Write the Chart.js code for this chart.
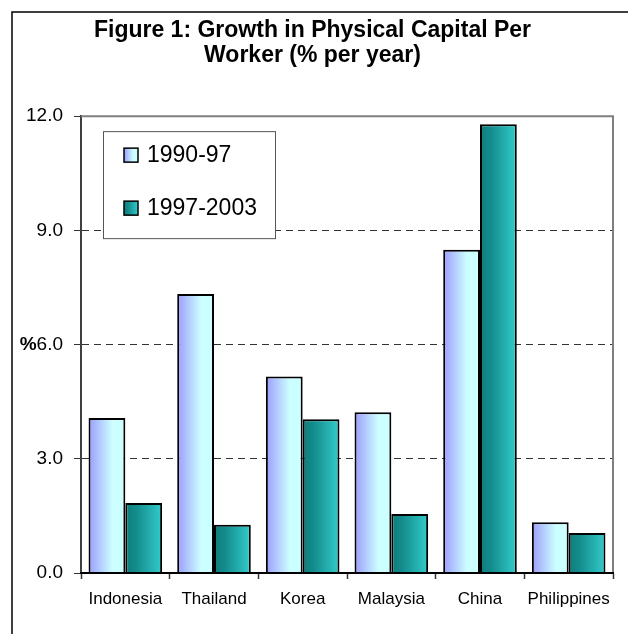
<!DOCTYPE html>
<html>
<head>
<meta charset="utf-8">
<script src="https://cdn.jsdelivr.net/npm/chart.js@4.4.1/dist/chart.umd.min.js"></script>
<style>
  html, body { margin: 0; padding: 0; background: #fff; overflow: hidden; }
</style>
</head>
<body>
<canvas id="chart" width="628" height="634"></canvas>
<script>
// Data
const countries = ['Indonesia', 'Thailand', 'Korea', 'Malaysia', 'China', 'Philippines'];
const growth1990 = [4.07, 7.33, 5.16, 4.22, 8.49, 1.33];
const growth1997 = [1.84, 1.27, 4.04, 1.55, 11.79, 1.05];
const seriesNames = ['1990-97', '1997-2003'];
const yMin = 0, yMax = 12, yStep = 3;

const FONT = "'Liberation Sans', Arial, sans-serif";
const CAT_PCT = 0.83;

// gradient stops, left to right across a bar
const stops1990 = [[0, '#9c9cff'], [0.65, '#ccffff'], [1, '#ccffff']];
const stops1997 = [[0, '#0d7d7d'], [0.3, '#148c8c'], [1, '#33cccc']];

function makeGradient(ctx, left, width, stops) {
    const g = ctx.createLinearGradient(left, 0, left + width, 0);
    stops.forEach(function (s) { g.addColorStop(s[0], s[1]); });
    return g;
}

// horizontal gradient per bar, position taken from the category scale
function barFill(stops) {
    return function (c) {
        const chart = c.chart;
        const xs = chart.scales.x;
        if (!xs || c.type !== 'data') return stops[0][1];
        const center = xs.getPixelForValue(c.dataIndex);
        const barW = (xs.width / countries.length) * CAT_PCT / 2;
        if (!isFinite(center) || !isFinite(barW) || barW <= 0) return stops[0][1];
        const left = c.datasetIndex === 0 ? center - barW : center;
        return makeGradient(chart.ctx, left, barW, stops);
    };
}

// frame, plot border, legend box and the "%" unit label
const decorations = {
    id: 'decorations',
    beforeDraw(chart) {
        const ctx = chart.ctx;
        ctx.save();
        ctx.fillStyle = '#fff';
        ctx.fillRect(0, 0, chart.width, chart.height);
        ctx.strokeStyle = '#000';
        ctx.lineWidth = 1.5;
        ctx.beginPath();
        ctx.moveTo(12, chart.height + 2);
        ctx.lineTo(12, 12);
        ctx.lineTo(chart.width + 2, 12);
        ctx.stroke();
        ctx.restore();
    },
    beforeDatasetsDraw(chart) {
        const ctx = chart.ctx;
        const a = chart.chartArea;
        ctx.save();
        ctx.strokeStyle = '#808080';
        ctx.lineWidth = 2;
        ctx.beginPath();
        ctx.moveTo(a.left, a.top);
        ctx.lineTo(a.right, a.top);
        ctx.lineTo(a.right, a.bottom);
        ctx.stroke();
        ctx.restore();
    },
    afterDatasetsDraw(chart) {
        const ctx = chart.ctx;
        const a = chart.chartArea;
        // legend box
        const bx = a.left + 22, by = a.top + 15, bw = 172, bh = 107;
        ctx.save();
        ctx.fillStyle = '#fff';
        ctx.fillRect(bx, by, bw, bh);
        ctx.strokeStyle = '#555';
        ctx.lineWidth = 1;
        ctx.strokeRect(bx + 0.5, by + 0.5, bw, bh);
        const allStops = [stops1990, stops1997];
        seriesNames.forEach(function (name, i) {
            const cy = by + 24 + i * 53;
            const mx = bx + 21;
            ctx.fillStyle = makeGradient(ctx, mx, 14, allStops[i]);
            ctx.fillRect(mx, cy - 7, 14, 14);
            ctx.strokeStyle = '#000';
            ctx.lineWidth = 1.5;
            ctx.strokeRect(mx, cy - 7, 14, 14);
            ctx.fillStyle = '#000';
            ctx.font = '23px ' + FONT;
            ctx.textAlign = 'left';
            ctx.textBaseline = 'middle';
            ctx.fillText(name, mx + 23, cy + 1);
        });
        ctx.restore();
    },
    afterDraw(chart) {
        const ctx = chart.ctx;
        const ys = chart.scales.y;
        const y6 = ys.getPixelForValue(6);
        ctx.save();
        ctx.font = '19px ' + FONT;
        const w = ctx.measureText('6.0').width;
        ctx.font = 'bold 19px ' + FONT;
        ctx.fillStyle = '#000';
        ctx.textAlign = 'right';
        ctx.textBaseline = 'middle';
        ctx.fillText('%', ys.right - 18 - w, y6);
        ctx.restore();
    }
};

new Chart(document.getElementById('chart'), {
    type: 'bar',
    data: {
        labels: countries,
        datasets: [
            {
                label: seriesNames[0],
                data: growth1990,
                backgroundColor: barFill(stops1990),
                borderColor: '#000',
                borderWidth: 2,
                barPercentage: 1,
                categoryPercentage: CAT_PCT
            },
            {
                label: seriesNames[1],
                data: growth1997,
                backgroundColor: barFill(stops1997),
                borderColor: '#000',
                borderWidth: 2,
                barPercentage: 1,
                categoryPercentage: CAT_PCT
            }
        ]
    },
    options: {
        responsive: false,
        animation: false,
        layout: { padding: { left: 12, right: 15, top: 0, bottom: 0 } },
        plugins: {
            legend: { display: false },
            tooltip: { enabled: false },
            title: {
                display: true,
                text: ['Figure 1: Growth in Physical Capital Per', 'Worker (% per year)'],
                color: '#000',
                font: { family: FONT, size: 23, weight: 'bold', lineHeight: 1.09 },
                padding: { top: 18, bottom: 48 }
            }
        },
        scales: {
            x: {
                afterFit(scale) { scale.height = 61; },
                grid: {
                    offset: true,
                    drawOnChartArea: false,
                    drawTicks: true,
                    tickLength: 6,
                    tickColor: '#333',
                    tickWidth: 1.5
                },
                border: { display: true, color: '#000', width: 2, z: 1 },
                ticks: {
                    color: '#000',
                    padding: 10,
                    maxRotation: 0,
                    autoSkip: false,
                    font: { family: FONT, size: 17 }
                }
            },
            y: {
                min: yMin,
                max: yMax,
                afterFit(scale) { scale.width = 69; },
                grid: {
                    color(c) {
                        const v = c.tick ? c.tick.value : null;
                        return (v === yMin || v === yMax) ? 'rgba(0,0,0,0)' : '#333';
                    },
                    lineWidth: 1,
                    tickLength: 7,
                    tickColor: '#333',
                    tickWidth: 1,
                    tickBorderDash: []
                },
                border: { display: true, color: '#404040', width: 2, dash: [7, 5] },
                ticks: {
                    stepSize: yStep,
                    color: '#000',
                    padding: 11,
                    font: { family: FONT, size: 19 },
                    callback(v) { return Number(v).toFixed(1); }
                }
            }
        }
    },
    plugins: [decorations]
});
</script>
</body>
</html>
